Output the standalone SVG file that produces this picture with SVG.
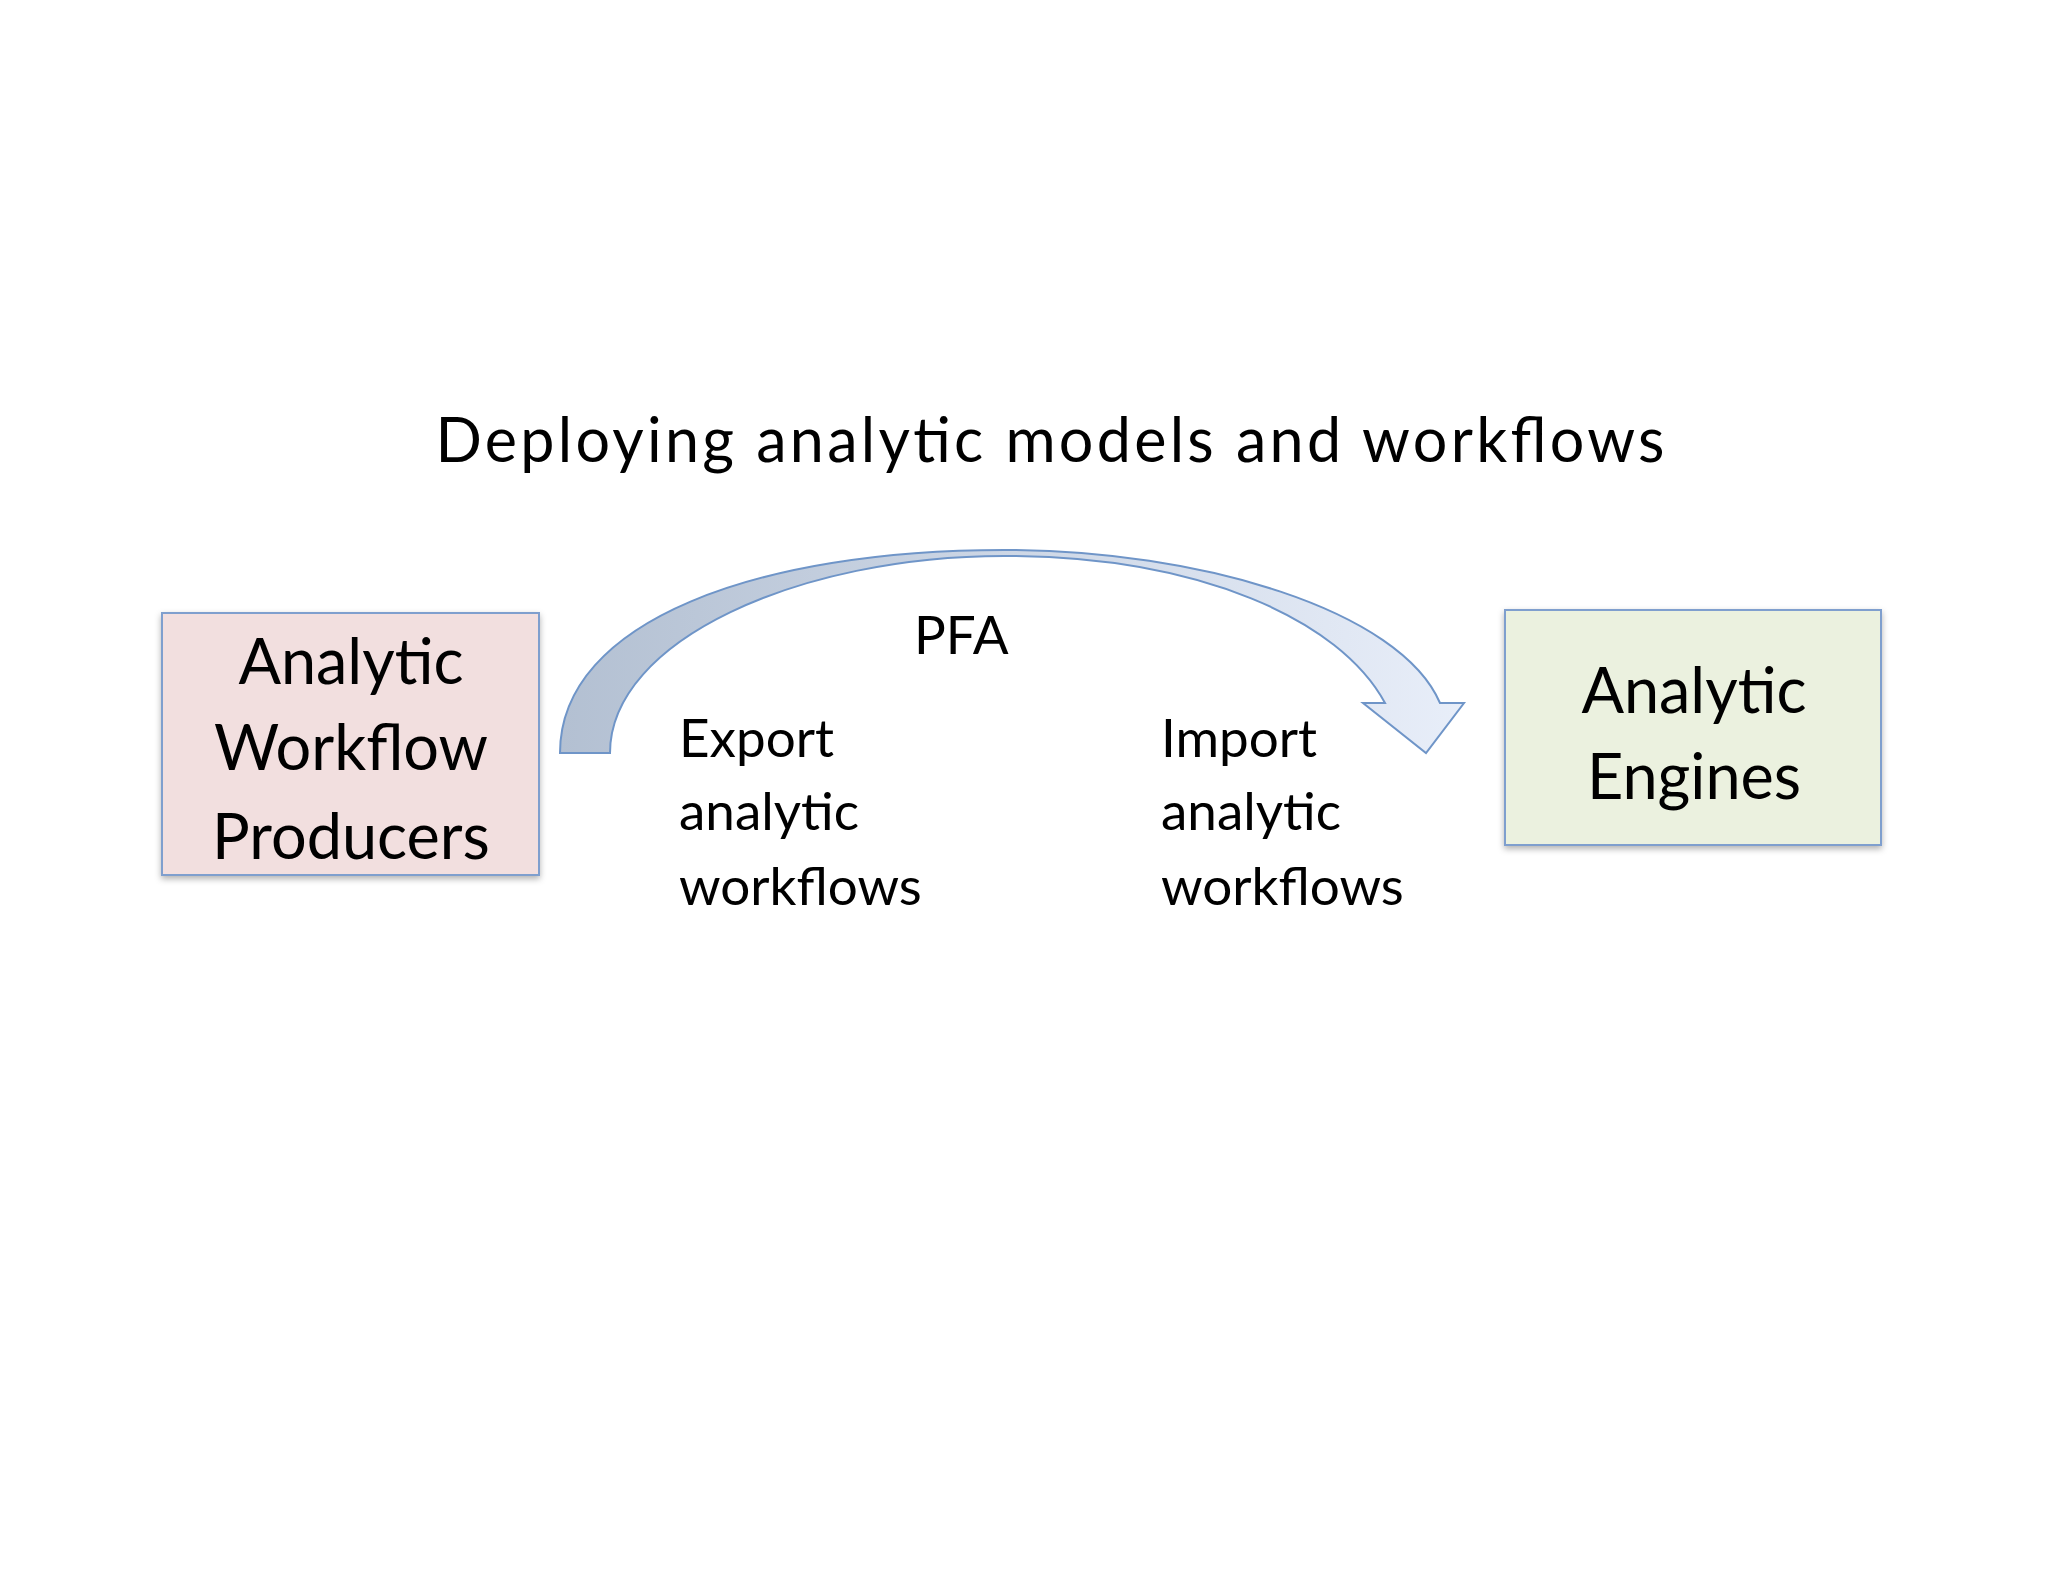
<svg xmlns="http://www.w3.org/2000/svg" width="2048" height="1582" viewBox="0 0 2048 1582">
<style>
text{font-family:Lato,"Open Sans","Liberation Sans",sans-serif;fill:#000}
.box{stroke:#7f9fce;stroke-width:2}
.big{font-size:63px;text-anchor:middle}
.mid{font-size:53px}
</style>
<defs>
<linearGradient id="g" x1="0" y1="0" x2="1" y2="0">
<stop offset="0" stop-color="#b3c0d2"/><stop offset="1" stop-color="#e8eef9"/>
</linearGradient>
<filter id="sh" x="-10%" y="-10%" width="130%" height="130%"><feDropShadow dx="0" dy="3" stdDeviation="3" flood-opacity="0.3"/></filter>
</defs>
<rect width="2048" height="1582" fill="#fff"/>
<text x="1050" y="462" font-size="61" text-anchor="middle" textLength="1229">Deploying analytic models and workflows</text>
<g id="connectors">
<path d="M560,753 C560,620 760,550 1004,550 C1200,550 1400,610 1440,703 L1464,703 L1426,753 L1363,703 L1385,703 C1340,620 1200,556 1004,556 C800,556 610,640 610,753 Z" fill="url(#g)" stroke="#6f95c8" stroke-width="2"/>
<text x="914" y="654" font-size="53">PFA</text>
</g>
<g id="producers">
<rect class="box" x="162" y="613" width="377" height="262" fill="#f2dfdf" filter="url(#sh)"/>
<text class="big" x="351" y="684">Analytic</text>
<text class="big" x="351" y="770">Workflow</text>
<text class="big" x="351" y="859">Producers</text>
</g>
<g id="engines">
<rect class="box" x="1505" y="610" width="376" height="235" fill="#ebf1df" filter="url(#sh)"/>
<text class="big" x="1694" y="713">Analytic</text>
<text class="big" x="1694" y="799">Engines</text>
</g>
<g id="export">
<text class="mid" x="679" y="757">Export</text>
<text class="mid" x="679" y="830">analytic</text>
<text class="mid" x="679" y="905">workflows</text>
</g>
<g id="import">
<text class="mid" x="1161" y="757">Import</text>
<text class="mid" x="1161" y="830">analytic</text>
<text class="mid" x="1161" y="905">workflows</text>
</g>
</svg>
